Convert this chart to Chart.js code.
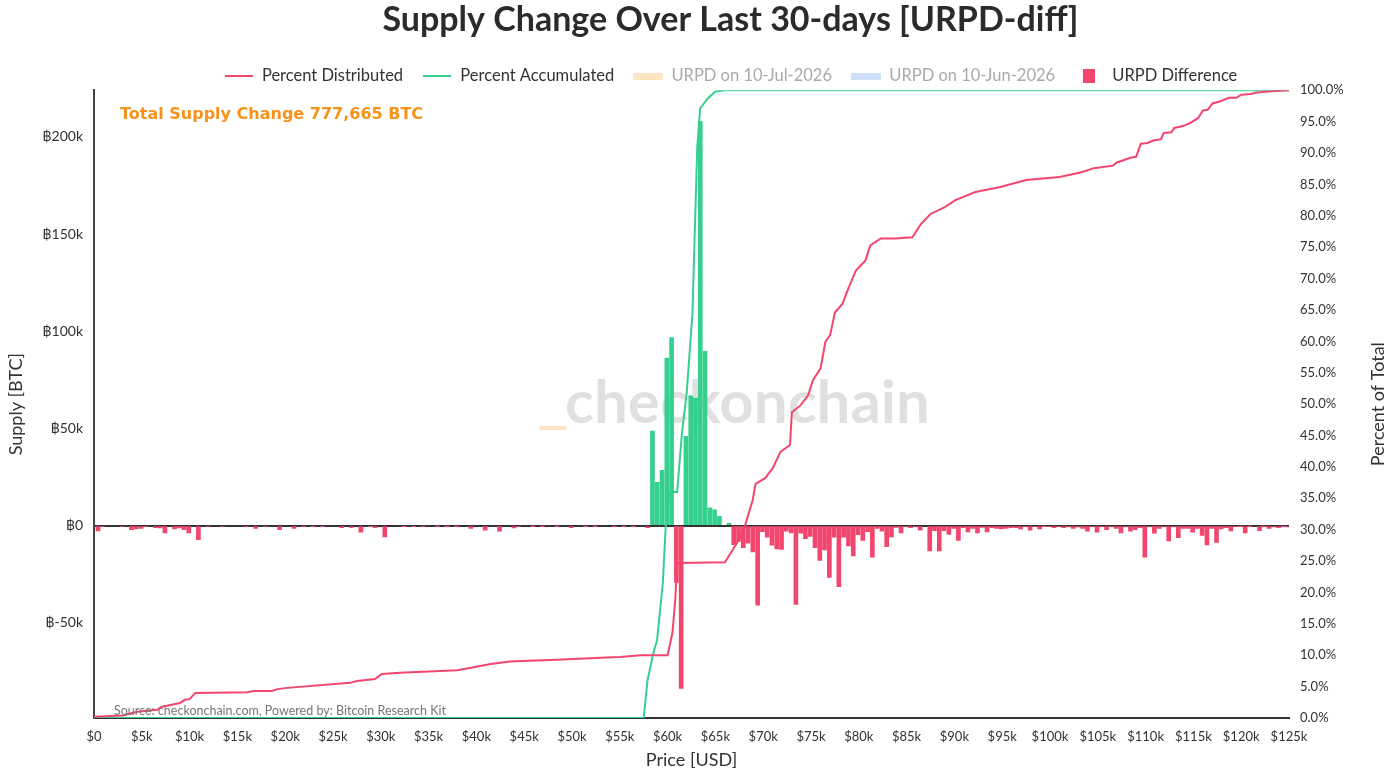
<!DOCTYPE html>
<html>
<head>
<meta charset="utf-8">
<script src="https://cdn.jsdelivr.net/npm/chart.js@4.4.1/dist/chart.umd.min.js"></script>
<style>
  html, body { margin: 0; padding: 0; background: #fff; overflow: hidden; }
  /* canvas runs 62px past the right edge so the title and legend centre where the original has them */
  #wrap { width: 1461px; height: 779px; position: relative; }
</style>
</head>
<body>
<div id="wrap"><canvas id="urpdChart"></canvas></div>
<script>
// URPD difference per $500 price bin (price in $k, change in k BTC); empty bins left out
const binPriceK = [0, 0.5, 2.5, 3.5, 4, 4.5, 5, 6, 6.5, 7, 8, 8.5, 9, 9.5, 10.5, 11.5, 13, 15.5, 16.5, 17.5,
  19, 20.5, 21.5, 22.5, 23.5, 25.5, 26.5, 27.5, 28.5, 29, 30, 32, 33, 34, 35.5, 36.5, 37.5, 39, 40.5, 42,
  43.5, 44, 45.5, 46.5, 48, 49.5, 51, 52, 54, 55, 56, 57.5, 58, 58.5, 59, 59.5, 60, 60.5, 61, 61.5,
  62, 62.5, 63, 63.5, 64, 64.5, 65, 66, 66.5, 67, 67.5, 68, 68.5, 69, 69.5, 70, 70.5, 71, 71.5, 72,
  72.5, 73, 73.5, 74, 74.5, 75, 75.5, 76, 76.5, 77, 77.5, 78, 78.5, 79, 79.5, 80, 80.5, 81, 81.5, 82,
  82.5, 83, 83.5, 84, 84.5, 85, 85.5, 86, 87, 87.5, 88, 88.5, 89, 89.5, 90, 90.5, 91, 91.5, 92, 92.5,
  93, 93.5, 94, 94.5, 95, 95.5, 96, 96.5, 97, 97.5, 98, 98.5, 99, 99.5, 100, 100.5, 101, 101.5, 102, 102.5,
  103, 103.5, 104, 104.5, 105, 105.5, 106, 106.5, 107, 107.5, 108, 108.5, 109, 109.5, 110, 110.5, 111, 111.5, 112, 112.5,
  113, 113.5, 114, 114.5, 115, 115.5, 116, 116.5, 117, 117.5, 118, 118.5, 119, 119.5, 120, 120.5, 121.5, 122, 122.5, 123,
  123.5, 124, 124.5];
const urpdDiffK = [-2.7, -0.5, -0.5, -2.1, -1.7, -1.4, -0.5, -1.0, -1.2, -3.8, -1.7, -1.2, -2.1, -3.8, -7.2, -0.5, -0.5, -0.5, -1.4, -0.5,
  -2.1, -1.4, -0.4, -0.4, -0.4, -1.0, -1.0, -3.4, -0.4, -1.0, -5.8, -0.4, -0.4, -0.4, -0.3, -0.3, -0.3, -1.4, -2.4, -2.9,
  -1.2, -0.5, -0.3, -0.3, -0.3, -1.0, -0.3, -0.3, -0.4, -0.4, -0.4, -1.0, 48.6, 22.3, 28.4, 86.2, 96.7, -29.2, -83.8, 45.9,
  66.8, 65.6, 208, 89.7, 9.1, 8.1, 4.8, 1.2, -9.8, -8.2, -11.3, -9.1, -13.6, -41, -3.1, -6, -10.1, -12, -12.2, -2.9,
  -3.8, -40.5, -3.9, -6.7, -5.5, -11.3, -17.9, -12.5, -26.6, -6, -31.4, -6, -10.5, -15.6, -4.6, -7.6, -3.1, -16.3, -1.4, -2.9,
  -10.8, -5.8, -0.9, -3.8, -0.5, -1, -0.5, -2.4, -13, -2.6, -13, -2.6, -4.5, -1.4, -7.6, -1, -3.3, -1.4, -3.8, -0.9,
  -3.3, -1, -1.4, -1.7, -1.4, -1, -1, -1.7, -0.5, -2.4, -0.5, -1.7, -0.3, -0.5, -1, -0.5, -1, -0.7, -1.5, -0.7,
  -1.5, -2.9, -0.5, -3.4, -0.5, -2.1, -0.5, -1.4, -3.8, -0.5, -2.9, -2.1, -1, -16.3, -0.5, -3.9, -1.4, -0.5, -7.9, -0.5,
  -6.2, -1.4, -1.4, -3.4, -1.4, -5, -10, -1.4, -8.6, -1.7, -1, -2.7, -0.5, -0.3, -3.8, -0.3, -2.6, -0.3, -1.4, -0.7,
  -1, -0.3, -0.7];

// cumulative share of distributed supply (price $k, % of total)
const distPriceK = [0, 3, 4.5, 6.6, 7.1, 9, 9.5, 10, 10.6, 16, 16.7, 18.6, 19.2, 20.2, 26.8, 27.5, 29.4, 30.1, 32, 38,
  39, 41.5, 43.5, 49, 53, 55, 57.2, 60, 60.5, 60.8, 61, 66, 67.3, 68.1, 68.9, 69.2, 70.2, 71, 71.8, 72.8,
  73, 73.9, 74.7, 75.2, 76, 76.5, 77, 77.5, 78.3, 78.9, 79.7, 80.7, 81.2, 82.3, 83.8, 85.6, 86.5, 87.5, 89, 90.1,
  92.2, 94.8, 97.5, 101, 103.2, 104.6, 106.6, 107, 108.5, 109, 109.5, 110.2, 110.8, 111.6, 111.9, 112.7, 113, 113.9, 114.7, 115.5,
  116, 116.5, 117, 117.9, 118.7, 119.5, 120, 121, 121.5, 122.8, 125];
const distPct = [0.2, 0.4, 1.0, 1.3, 1.8, 2.4, 2.9, 3.0, 4.0, 4.1, 4.3, 4.3, 4.6, 4.8, 5.6, 5.9, 6.2, 7.0, 7.2, 7.6,
  7.9, 8.6, 9.0, 9.3, 9.6, 9.7, 10.0, 10.0, 13.5, 18.8, 24.7, 24.8, 28, 30.7, 34.7, 37.3, 38.2, 39.8, 42.4, 43.5,
  48.7, 49.8, 51.4, 53.8, 55.7, 59.9, 61, 64.6, 66, 68.4, 71.3, 72.9, 75.3, 76.4, 76.4, 76.6, 78.7, 80.3, 81.4, 82.5,
  83.8, 84.6, 85.7, 86.2, 86.9, 87.6, 88, 88.5, 89.3, 89.4, 91.5, 91.6, 92, 92.2, 93.2, 93.3, 94, 94.3, 94.8, 95.6,
  96.8, 96.9, 97.9, 98.3, 98.8, 98.8, 99.3, 99.4, 99.6, 99.8, 100];

// cumulative share of accumulated supply
const accPriceK = [0, 57.5, 57.9, 58.5, 58.9, 59.5, 59.8, 60.2, 61, 61.5, 62, 62.6, 62.9, 63.1, 63.4, 64.2, 65, 66, 125];
const accPct = [0, 0, 6, 10.3, 12.4, 21.5, 30.4, 36, 36, 45.4, 51.8, 64.5, 80.4, 90.9, 97.1, 98.7, 99.8, 100, 100];

const supplyTicks = [-50000, 0, 50000, 100000, 150000, 200000];
const totalSupplyChange = 777665;
const rightTitle = 'Percent of Total';

const GREEN = '#35d08e';
const RED = '#f2466e';

function swatch(w, h, draw) {
  const c = document.createElement('canvas');
  c.width = w; c.height = h;
  draw(c.getContext('2d'));
  return c;
}
const lineSwatch = color => swatch(28, 4, g => { g.fillStyle = color; g.fillRect(0, 1, 28, 2); });
const boxSwatch = color => swatch(30, 7, g => { g.fillStyle = color; g.fillRect(0, 0, 30, 7); });

const legendItems = [
  { text: 'Percent Distributed', style: lineSwatch(RED), color: '#333' },
  { text: 'Percent Accumulated', style: lineSwatch(GREEN), color: '#333' },
  { text: 'URPD on 10-Jul-2026', style: boxSwatch('#fde4c3'), color: '#aaa' },
  { text: 'URPD on 10-Jun-2026', style: boxSwatch('#cddff9'), color: '#aaa' },
  { text: 'URPD Difference', style: swatch(12, 14, g => { g.fillStyle = RED; g.fillRect(0, 0, 12, 14); }), color: '#333' }
];

const decor = {
  id: 'decor',
  afterLayout(chart) {
    // legend sits a little closer to the plot than Chart.js spaces it
    chart.legend.top += 4;
    chart.legend.bottom += 4;
  },
  beforeDatasetsDraw(chart) {
    const { ctx, chartArea: a } = chart;
    ctx.save();
    ctx.font = 'bold 60px Lato';
    ctx.fillStyle = 'rgba(0,0,0,0.12)';
    ctx.textAlign = 'center';
    ctx.textBaseline = 'middle';
    const cx = (a.left + a.right) / 2 + 56;
    const cy = (a.top + a.bottom) / 2;
    ctx.fillText('checkonchain', cx, cy);
    ctx.fillStyle = '#fde4c3';
    ctx.fillRect(cx - 208, cy + 22, 27, 4);
    ctx.restore();
  },
  afterDraw(chart) {
    const { ctx, chartArea: a } = chart;
    ctx.save();
    ctx.font = 'bold 16px "DejaVu Sans"';
    ctx.fillStyle = '#f7931a';
    ctx.textBaseline = 'middle';
    ctx.fillText('Total Supply Change ' + totalSupplyChange.toLocaleString('en-US') + ' BTC', a.left + 26, a.top + 25);
    ctx.font = '12.5px Lato';
    ctx.fillStyle = '#777';
    ctx.textBaseline = 'alphabetic';
    ctx.fillText('Source: checkonchain.com, Powered by: Bitcoin Research Kit', a.left + 20, a.bottom - 3);
    // right axis title reads bottom-to-top like the left one
    ctx.translate(a.right + 89, (a.top + a.bottom) / 2);
    ctx.rotate(-Math.PI / 2);
    ctx.font = '18px Lato';
    ctx.fillStyle = '#333';
    ctx.textAlign = 'center';
    ctx.textBaseline = 'middle';
    ctx.fillText(rightTitle, 0, 0);
    ctx.restore();
  }
};

const toXY = (xs, ys, sx, sy) => xs.map((x, i) => ({ x: x * sx, y: ys[i] * sy }));

new Chart(document.getElementById('urpdChart'), {
  type: 'bar',
  data: {
    datasets: [
      { type: 'line', label: 'Percent Distributed', data: toXY(distPriceK, distPct, 1000, 1), yAxisID: 'y1',
        borderColor: RED, borderWidth: 2, pointRadius: 0, tension: 0 },
      { type: 'line', label: 'Percent Accumulated', data: toXY(accPriceK, accPct, 1000, 1), yAxisID: 'y1',
        borderColor: GREEN, borderWidth: 2, pointRadius: 0, tension: 0 },
      { label: 'URPD on 10-Jul-2026', data: [], backgroundColor: '#fde4c3', yAxisID: 'y' },
      { label: 'URPD on 10-Jun-2026', data: [], backgroundColor: '#cddff9', yAxisID: 'y' },
      { label: 'URPD Difference', data: toXY(binPriceK, urpdDiffK, 1000, 1000), yAxisID: 'y',
        backgroundColor: c => (c.raw && c.raw.y >= 0 ? GREEN : RED), barThickness: 4 }
    ]
  },
  options: {
    responsive: true,
    maintainAspectRatio: false,
    animation: false,
    plugins: {
      tooltip: { enabled: false },
      title: {
        display: true,
        text: 'Supply Change Over Last 30-days [URPD-diff]',
        color: '#2b2b2b',
        font: { family: 'Lato', size: 34, weight: 'bold' },
        padding: { top: 0, bottom: 4 }
      },
      legend: {
        position: 'top',
        onClick: null,
        labels: {
          usePointStyle: true,
          pointStyleWidth: 30,
          boxHeight: 14,
          padding: 19,
          font: { family: 'Lato', size: 16.5 },
          generateLabels: () => legendItems.map((it, i) => ({
            text: it.text, pointStyle: it.style, fontColor: it.color,
            fillStyle: 'transparent', strokeStyle: 'transparent', lineWidth: 0, hidden: false, datasetIndex: i
          }))
        }
      }
    },
    scales: {
      x: {
        type: 'linear',
        offset: false,
        min: 0,
        max: 125000,
        afterFit: s => { s.height = 61; },
        ticks: {
          stepSize: 5000, autoSkip: false, maxRotation: 0, padding: 11,
          color: '#333', font: { family: 'Lato', size: 13 },
          callback: v => (v === 0 ? '$0' : '$' + v / 1000 + 'k')
        },
        grid: { display: false, drawTicks: false },
        border: { display: true, color: '#333', width: 2 },
        title: { display: true, text: 'Price [USD]', color: '#333', font: { family: 'Lato', size: 18 }, padding: { top: 0, bottom: 8 } }
      },
      y: {
        position: 'left',
        min: -99000,
        max: 224000,
        afterBuildTicks: s => { s.ticks = supplyTicks.map(v => ({ value: v })); },
        afterFit: s => { s.width = 94; },
        ticks: {
          padding: 11, color: '#333', font: { family: 'Lato', size: 14 },
          callback: v => (v === 0 ? '฿0' : '฿' + v / 1000 + 'k')
        },
        grid: { drawTicks: false, lineWidth: 2, color: c => (c.tick && c.tick.value === 0 ? '#333' : 'transparent') },
        border: { display: true, color: '#444', width: 2 },
        title: { display: true, text: 'Supply [BTC]', color: '#333', font: { family: 'Lato', size: 18 }, padding: { top: 5, bottom: 0 } }
      },
      y1: {
        position: 'right',
        min: 0,
        max: 100,
        afterFit: s => { s.width = 172; },
        ticks: {
          stepSize: 5, padding: 11, color: '#333', font: { family: 'Lato', size: 13 },
          callback: v => v.toFixed(1) + '%'
        },
        grid: { display: false, drawTicks: false },
        border: { display: false },
        title: { display: false }
      }
    }
  },
  plugins: [decor]
});
</script>
</body>
</html>
